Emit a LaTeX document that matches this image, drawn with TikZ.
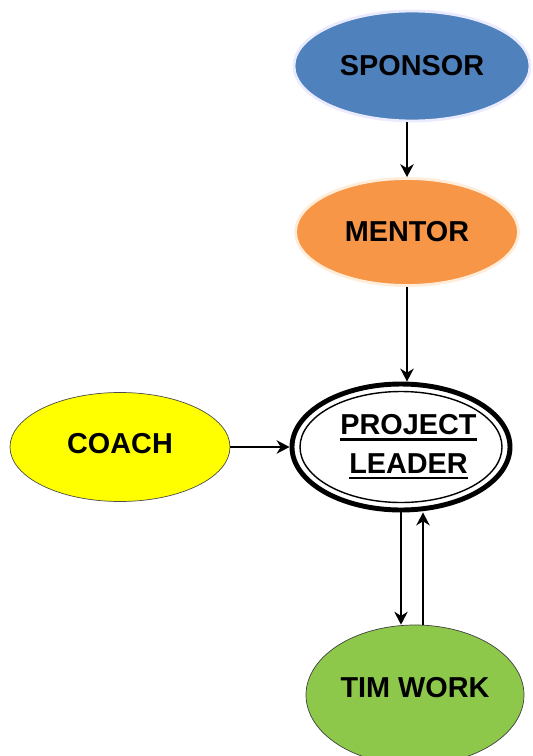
\documentclass[tikz,border=0pt]{standalone}
\usepackage{fontspec}
\setmainfont{Liberation Sans}
\usepackage{tikz}
\usetikzlibrary{shapes.geometric}
\usetikzlibrary{arrows.meta}

\definecolor{sponsorblue}{HTML}{4F81BD}
\definecolor{mentororange}{HTML}{F79646}
\definecolor{coachyellow}{HTML}{FFFF00}
\definecolor{teamgreen}{HTML}{8DC84B}

% thicker underline for the leader text
\newcommand{\fatul}[1]{\setbox0\hbox{#1}\leavevmode\rlap{\rule[-3.2pt]{\wd0}{1.2pt}}\box0}

\begin{document}
\begin{tikzpicture}[
    font=\fontsize{16.4}{20}\selectfont\bfseries,
    role/.style={ellipse,inner sep=0pt,align=center},
    arrow/.style={-{Stealth[length=2.6mm,width=2.7mm]},thick},
]
\useasboundingbox (0,0) rectangle (10.66,-15.12);

% nodes
\node[role,fill=sponsorblue,draw=blue!8,line width=1.6pt,minimum width=4.72cm,minimum height=2.2cm] (sponsor) at (8.24,-1.32) {\raisebox{-1pt}{SPONSOR}};
\node[role,fill=mentororange,draw=orange!15,line width=1.6pt,minimum width=4.46cm,minimum height=2.14cm] (mentor) at (8.14,-4.64) {MENTOR};
\node[role,draw=black,line width=2.8pt,fill=white,minimum width=4.36cm,minimum height=2.52cm] (leader) at (8.02,-8.94) {\hspace*{0.3cm}\fatul{PROJECT}\\[2pt]\hspace*{0.3cm}\fatul{LEADER}};
\draw[line width=0.8pt] (leader.center) ellipse [x radius=2.02cm, y radius=1.11cm];
\node[role,fill=coachyellow,draw=black!70,minimum width=4.4cm,minimum height=2.18cm] (coach) at (2.4,-8.94) {\raisebox{4pt}{COACH}};
\node[role,fill=teamgreen,draw=black!75,minimum width=4.36cm,minimum height=2.8cm] (team) at (8.3,-13.9) {\raisebox{0.3cm}{TIM WORK}};

% connectors
\draw[arrow] (sponsor.south -| mentor.north) -- (mentor.north);
\draw[arrow] (mentor.south) -- (mentor.south |- leader.north);
\draw[arrow] (coach.east) -- (leader.west);
\draw[arrow] (leader.south) -- (leader.south |- team.north);
\draw[arrow] ([xshift=0.44cm]leader.south |- team.north) -- ([xshift=0.44cm]leader.south);

\end{tikzpicture}
\end{document}
